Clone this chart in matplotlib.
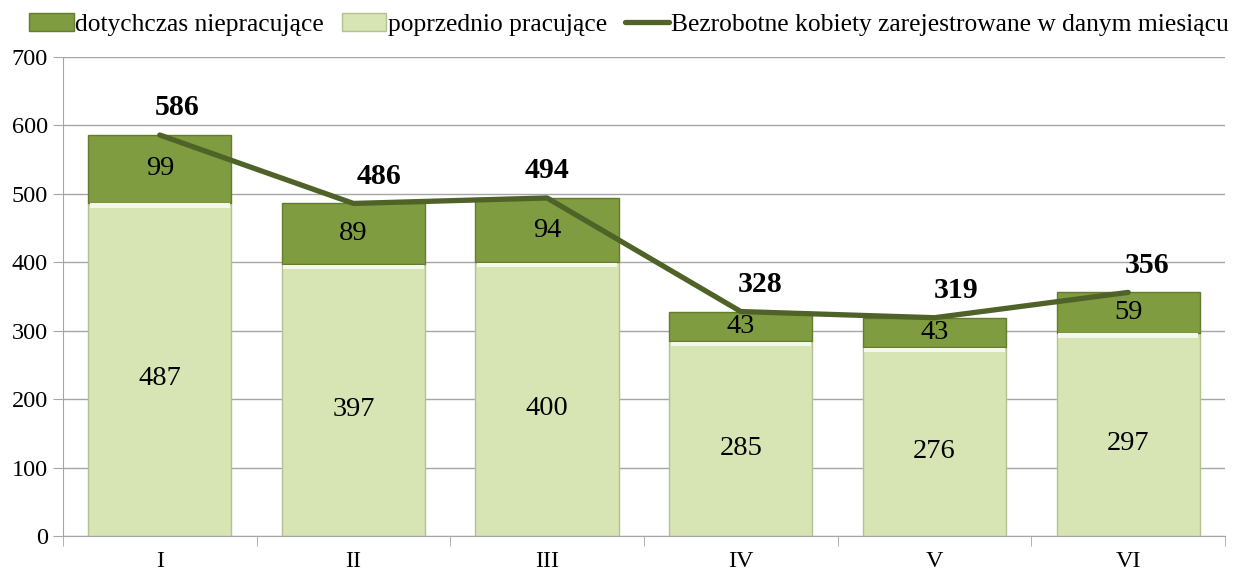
import numpy as np
import matplotlib.pyplot as plt

months = ['I', 'II', 'III', 'IV', 'V', 'VI']
poprzednio = [487, 397, 400, 285, 276, 297]
dotychczas = [99, 89, 94, 43, 43, 59]
razem = [586, 486, 494, 328, 319, 356]

plt.rcParams['font.family'] = ['Liberation Serif', 'DejaVu Serif']

light = '#d7e4b4'
dark = '#7f9c40'
line_c = '#4f6228'
grid_c = '#a6a6a6'

fig = plt.figure(figsize=(12.39, 5.73), dpi=100)
ax = fig.add_axes([0.0508, 0.0646, 0.9379, 0.8359])

x = np.arange(len(months))
w = 0.74
b1 = ax.bar(x, poprzednio, w, color=light, edgecolor='#b3c292', linewidth=1,
            zorder=2, label='poprzednio pracujące')
# thin highlight at the top of light segments
ax.bar(x, [6] * len(x), w * 0.98, bottom=np.array(poprzednio) - 7,
       color='#f4f8ea', linewidth=0, zorder=3)
b2 = ax.bar(x, dotychczas, w, bottom=poprzednio, color=dark, edgecolor='#637c2e',
            linewidth=1, zorder=2, label='dotychczas niepracujące')
ln, = ax.plot(x, razem, color=line_c, lw=3.8, zorder=4, solid_capstyle='round',
              label='Bezrobotne kobiety zarejestrowane w danym miesiącu')

for i in x:
    ax.text(i, poprzednio[i] / 2 - 14, str(poprzednio[i]), ha='center', va='center',
            fontsize=20.5, zorder=5)
    ax.text(i, poprzednio[i] + dotychczas[i] / 2, str(dotychczas[i]), ha='center',
            va='center', fontsize=20.5, zorder=5)

lab_dx = [0.09, 0.13, 0.0, 0.1, 0.11, 0.1]
for i in x:
    ax.text(i + lab_dx[i], razem[i] + 20, str(razem[i]), ha='center', va='bottom',
            fontsize=21.5, fontweight='bold', zorder=5)

ax.set_xlim(-0.5, len(x) - 0.5)
ax.set_ylim(0, 700)
ax.set_yticks(range(0, 701, 100))
ax.set_xticks(x)
ax.set_xticklabels(months)
ax.set_xticks(np.arange(-0.5, len(x)), minor=True)
ax.tick_params(axis='x', which='major', length=0, labelsize=17.5, pad=11)
ax.tick_params(axis='x', which='minor', length=7, color=grid_c, direction='out')
ax.tick_params(axis='y', length=7, color=grid_c, labelsize=17.5, pad=4)
ax.grid(axis='y', color=grid_c, lw=1, zorder=0)
ax.set_axisbelow(True)
for s in ['top', 'right']:
    ax.spines[s].set_visible(False)
for s in ['left', 'bottom']:
    ax.spines[s].set_color(grid_c)

ax.legend(handles=[b2, b1, ln], loc='lower left', bbox_to_anchor=(-0.037, 1.025),
          ncol=3, frameon=False, fontsize=18.4, handlelength=1.75, handletextpad=0.05,
          columnspacing=0.7, borderaxespad=0.35, borderpad=0.0)

fig.savefig('out.png', dpi=100)
